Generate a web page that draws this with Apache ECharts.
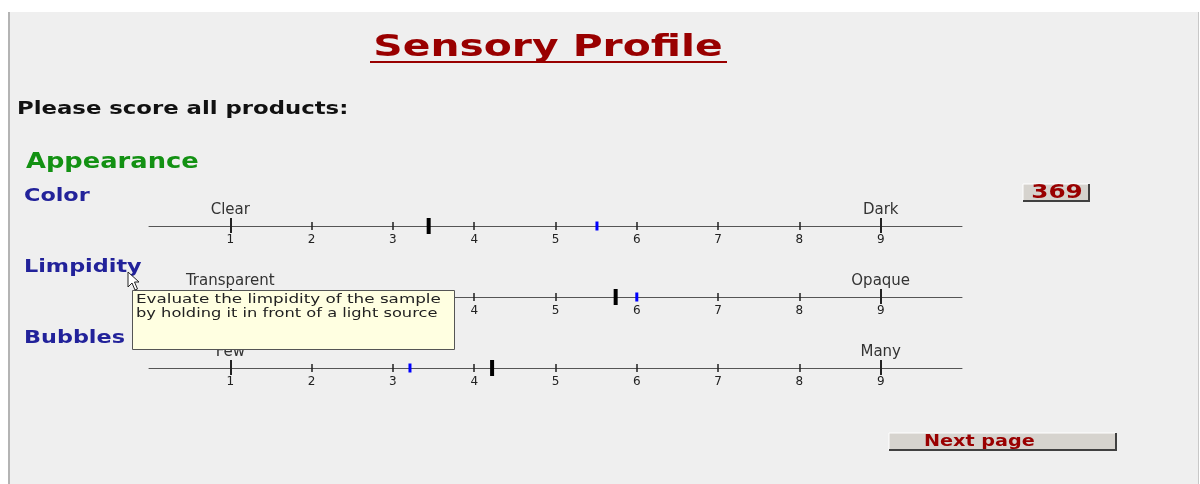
<!DOCTYPE html>
<html>
<head>
<meta charset="utf-8">
<title>Sensory Profile</title>
<script src="https://cdn.jsdelivr.net/npm/echarts@6/dist/echarts.min.js"></script>
<style>
  html, body { margin: 0; padding: 0; background: #fff; }
  #panel {
    position: absolute; left: 8px; top: 12px; width: 1188px; height: 472px;
    background: #efefef; border-left: 2px solid #b4b4b4; border-right: 1px solid #c8c8c8;
  }
  #main { position: absolute; left: 0; top: 0; width: 1200px; height: 484px; }
</style>
</head>
<body>
<div id="panel"></div>
<div id="main"></div>
<script>
// attributes scored on a 1..9 line scale
var attributes = ["Color", "Limpidity", "Bubbles"];
var lowAnchors = ["Clear", "Transparent", "Few"];
var highAnchors = ["Dark", "Opaque", "Many"];
var scaleTicks = [1, 2, 3, 4, 5, 6, 7, 8, 9];
var minorTicks = [2, 3, 4, 5, 6, 7, 8];
var anchorTicks = [1, 9];
// scores already placed by the panelist (black = current product, blue = previous)
var scoreCurrent = [3.44, 5.74, 4.22];
var scorePrevious = [5.51, 6.0, 3.21];
var productCode = "369";
var tooltipLines = ["Evaluate the limpidity of the sample", "by holding it in front of a light source"];

var FONT = "DejaVu Sans";
var myChart = echarts.init(document.getElementById("main"));

// text helper, stretched a bit sideways to get close to the wide original face
function txt(x, y, s, font, fill, sx, align, z) {
  return {
    type: "text", x: x, y: y, scaleX: sx || 1, z: z || 0,
    style: { text: s, fill: fill, font: font, textAlign: align || "left", textVerticalAlign: "middle" }
  };
}

var grids = [], xAxes = [], yAxes = [], series = [], graphic = [];

for (var i = 0; i < attributes.length; i++) {
  var lineY = 226 + i * 71;
  grids.push({ left: 149, width: 813, top: lineY - 20, height: 20 });
  yAxes.push({ gridIndex: i, type: "value", min: 0, max: 1, show: false });

  var base = { gridIndex: i, type: "value", position: "bottom", min: 0, max: 10, interval: 1, splitLine: { show: false } };
  // main line + numbers, small ticks downward
  xAxes.push(Object.assign({}, base, {
    axisLine: { show: true, lineStyle: { color: "#555", width: 1 } },
    axisTick: { show: true, customValues: minorTicks, inside: false, length: 4, lineStyle: { color: "#222", width: 1.5 } },
    axisLabel: { show: true, customValues: scaleTicks, margin: 8, color: "#222", fontSize: 12, fontFamily: FONT }
  }));
  // small ticks upward
  xAxes.push(Object.assign({}, base, {
    axisLine: { show: false },
    axisTick: { show: true, customValues: minorTicks, inside: true, length: 4, lineStyle: { color: "#222", width: 1.5 } },
    axisLabel: { show: false }
  }));
  // anchor ticks downward
  xAxes.push(Object.assign({}, base, {
    axisLine: { show: false },
    axisTick: { show: true, customValues: anchorTicks, inside: false, length: 7, lineStyle: { color: "#222", width: 2 } },
    axisLabel: { show: false }
  }));
  // anchor ticks upward + anchor words
  (function (idx) {
    xAxes.push(Object.assign({}, base, {
      axisLine: { show: false },
      axisTick: { show: true, customValues: anchorTicks, inside: true, length: 8, lineStyle: { color: "#222", width: 2 } },
      axisLabel: {
        show: true, inside: true, customValues: anchorTicks, margin: 8,
        color: "#333", fontSize: 15, fontFamily: FONT,
        formatter: function (v) { return v === 1 ? lowAnchors[idx] : highAnchors[idx]; }
      }
    }));
  })(i);

  series.push({
    type: "scatter", xAxisIndex: i * 4, yAxisIndex: i, clip: false, z: 5, silent: true,
    symbol: "rect", symbolSize: [4, 16], itemStyle: { color: "#000", opacity: 1 },
    data: [[scoreCurrent[i], 0]]
  });
  series.push({
    type: "scatter", xAxisIndex: i * 4, yAxisIndex: i, clip: false, z: 5, silent: true,
    symbol: "rect", symbolSize: [3, 9], itemStyle: { color: "#0000ff", opacity: 1 },
    data: [[scorePrevious[i], 0]]
  });

  graphic.push(txt(24, lineY - 30, attributes[i], "bold 18px '" + FONT + "'", "#22229a", 1.24));
}

// headings
graphic.push(
  txt(548, 48, "Sensory Profile", "bold 30px '" + FONT + "'", "#990000", 1.36, "center"),
  { type: "line", shape: { x1: 370, y1: 62, x2: 727, y2: 62 }, style: { stroke: "#990000", lineWidth: 2 } },
  txt(17, 110, "Please score all products:", "bold 17px '" + FONT + "'", "#111", 1.34),
  txt(26, 162, "Appearance", "bold 22px '" + FONT + "'", "#139113", 1.17)
);

// product code button
graphic.push(
  { type: "rect", shape: { x: 1023, y: 184, width: 66, height: 17 }, style: { fill: "#d6d3ce" } },
  { type: "polyline", shape: { points: [[1023, 201], [1023, 184], [1089, 184]] }, style: { stroke: "#fff", lineWidth: 1, fill: null } },
  { type: "polyline", shape: { points: [[1023, 201], [1089, 201], [1089, 184]] }, style: { stroke: "#404040", lineWidth: 2, fill: null } },
  txt(1057, 193, productCode, "bold 19px '" + FONT + "'", "#990000", 1.3, "center")
);

// next page button
graphic.push(
  { type: "rect", shape: { x: 889, y: 433, width: 227, height: 17 }, style: { fill: "#d6d3ce" } },
  { type: "polyline", shape: { points: [[889, 450], [889, 433], [1116, 433]] }, style: { stroke: "#fff", lineWidth: 1, fill: null } },
  { type: "polyline", shape: { points: [[889, 450], [1116, 450], [1116, 433]] }, style: { stroke: "#404040", lineWidth: 2, fill: null } },
  txt(924, 442, "Next page", "bold 16px '" + FONT + "'", "#990000", 1.2)
);

// hover hint over "Limpidity"
graphic.push(
  { type: "rect", z: 100, shape: { x: 132.5, y: 290.5, width: 322, height: 59 }, style: { fill: "#ffffe1", stroke: "#555", lineWidth: 1 } },
  txt(136, 300, tooltipLines[0], "13px '" + FONT + "'", "#222", 1.29, "left", 101),
  txt(136, 314, tooltipLines[1], "13px '" + FONT + "'", "#222", 1.25, "left", 101),
  { type: "polygon", z: 102, shape: { points: [[128, 272], [128, 287], [132, 283], [135, 290], [137.5, 289], [134.5, 282], [139, 282]] }, style: { fill: "#fff", stroke: "#222", lineWidth: 1 } }
);

var option = {
  animation: false,
  grid: grids,
  xAxis: xAxes,
  yAxis: yAxes,
  series: series,
  graphic: graphic
};
myChart.setOption(option);
</script>
</body>
</html>
